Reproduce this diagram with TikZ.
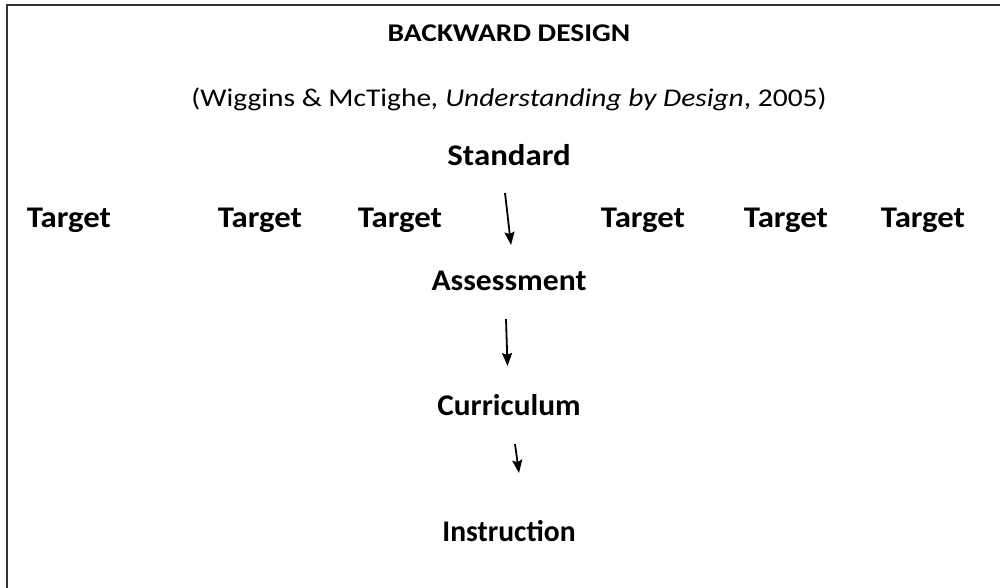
\documentclass[tikz,border=0pt]{standalone}
\usepackage{fontspec}
\usepackage{graphicx}
\setmainfont{Carlito}
\usetikzlibrary{arrows.meta}
% horizontally widened text
\newcommand{\widen}[2]{\scalebox{#1}[1]{#2}}
\begin{document}
\begin{tikzpicture}[x=1pt,y=-1pt,
  titletext/.style={anchor=base,inner sep=0pt,font=\fontsize{25.5}{30}\selectfont\bfseries},
  subtext/.style={anchor=base,inner sep=0pt,font=\fontsize{25.5}{30}\selectfont},
  stagetext/.style={anchor=base,inner sep=0pt,font=\fontsize{30}{36}\selectfont\bfseries},
  flow/.style={line width=1.8pt,-{Stealth[length=13pt,width=10pt,inset=2pt]}},
  frame/.style={line width=2pt,draw=black!80}]
\useasboundingbox (0,0) rectangle (1000,588);
% open frame: top and left edges only
\draw[frame] (6.5,5.5) -- (1000,5.5);
\draw[frame] (6.5,4.5) -- (6.5,588);
% headings
\node[titletext] (title) at (509,42) {\widen{1.155}{BACKWARD DESIGN}};
\node[subtext] (source) at (509,107) {\widen{1.155}{(Wiggins \& McTighe\textit{, Understanding by Design}, 2005)}};
% stages
\node[stagetext] (standard) at (509,165.5) {\widen{1.095}{Standard}};
\node[stagetext] (t1) at (69,227) {\widen{1.093}{Target}};
\node[stagetext] (t2) at (260,227) {\widen{1.093}{Target}};
\node[stagetext] (t3) at (400,227) {\widen{1.093}{Target}};
\node[stagetext] (t4) at (643,227) {\widen{1.093}{Target}};
\node[stagetext] (t5) at (786,227) {\widen{1.093}{Target}};
\node[stagetext] (t6) at (923,227) {\widen{1.093}{Target}};
\node[stagetext] (assessment) at (509,290.5) {\widen{1.055}{Assessment}};
\node[stagetext] (curriculum) at (509,415.5) {\widen{1.045}{Curriculum}};
\node[stagetext] (instruction) at (509,541.5) {\widen{0.985}{Instruction}};
% arrow ends
\coordinate (a1s) at (505,193);
\coordinate (a1e) at (511,245);
\coordinate (a2s) at (506,319);
\coordinate (a2e) at (507.5,366);
\coordinate (a3s) at (515,444);
\coordinate (a3e) at (519,473);
\draw[flow] (a1s) -- (a1e);
\draw[flow] (a2s) -- (a2e);
\draw[flow] (a3s) -- (a3e);
\end{tikzpicture}
\end{document}
